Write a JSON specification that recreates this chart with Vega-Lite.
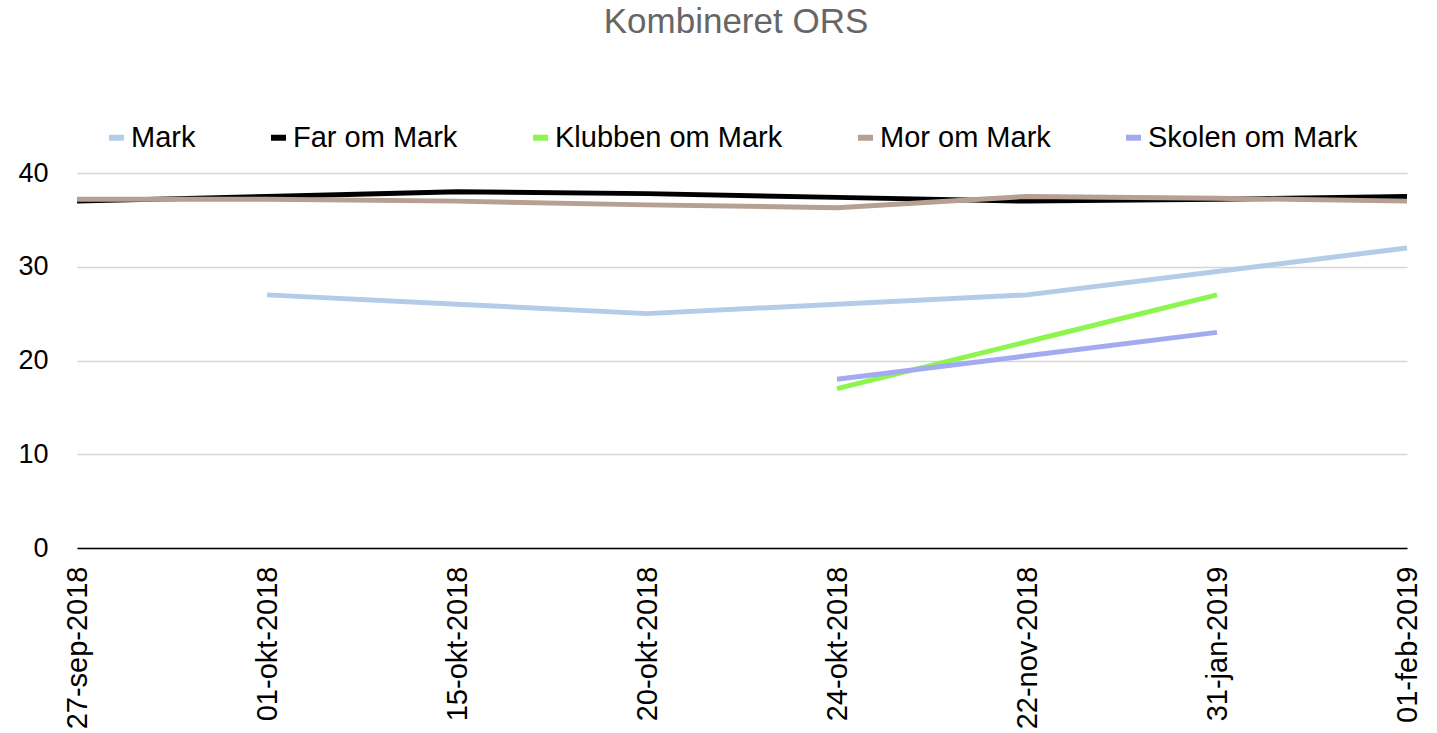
{
  "$schema": "https://vega.github.io/schema/vega-lite/v6.json",
  "width": 1330,
  "height": 375,
  "autosize": {"type": "none"},
  "padding": {"left": 77, "top": 173, "right": 30, "bottom": 185},
  "background": "white",
  "title": {"text": "Kombineret ORS", "fontSize": 35, "color": "#666666", "font": "Liberation Sans", "fontWeight": "normal", "anchor": "middle", "offset": 83, "dx": -6},
  "config": {
    "view": {"stroke": null},
    "font": "Liberation Sans"
  },
  "data": {
    "values": [
      {"i": 1, "dato": "01-okt-2018", "serie": "Mark", "v": 27},
      {"i": 2, "dato": "15-okt-2018", "serie": "Mark", "v": 26},
      {"i": 3, "dato": "20-okt-2018", "serie": "Mark", "v": 25},
      {"i": 4, "dato": "24-okt-2018", "serie": "Mark", "v": 26},
      {"i": 5, "dato": "22-nov-2018", "serie": "Mark", "v": 27},
      {"i": 6, "dato": "31-jan-2019", "serie": "Mark", "v": 29.5},
      {"i": 7, "dato": "01-feb-2019", "serie": "Mark", "v": 32},
      {"i": 0, "dato": "27-sep-2018", "serie": "Far om Mark", "v": 37},
      {"i": 1, "dato": "01-okt-2018", "serie": "Far om Mark", "v": 37.5},
      {"i": 2, "dato": "15-okt-2018", "serie": "Far om Mark", "v": 38},
      {"i": 3, "dato": "20-okt-2018", "serie": "Far om Mark", "v": 37.8},
      {"i": 4, "dato": "24-okt-2018", "serie": "Far om Mark", "v": 37.4},
      {"i": 5, "dato": "22-nov-2018", "serie": "Far om Mark", "v": 37},
      {"i": 6, "dato": "31-jan-2019", "serie": "Far om Mark", "v": 37.2},
      {"i": 7, "dato": "01-feb-2019", "serie": "Far om Mark", "v": 37.5},
      {"i": 4, "dato": "24-okt-2018", "serie": "Klubben om Mark", "v": 17},
      {"i": 5, "dato": "22-nov-2018", "serie": "Klubben om Mark", "v": 22},
      {"i": 6, "dato": "31-jan-2019", "serie": "Klubben om Mark", "v": 27},
      {"i": 0, "dato": "27-sep-2018", "serie": "Mor om Mark", "v": 37.2},
      {"i": 1, "dato": "01-okt-2018", "serie": "Mor om Mark", "v": 37.2},
      {"i": 2, "dato": "15-okt-2018", "serie": "Mor om Mark", "v": 37},
      {"i": 3, "dato": "20-okt-2018", "serie": "Mor om Mark", "v": 36.6},
      {"i": 4, "dato": "24-okt-2018", "serie": "Mor om Mark", "v": 36.3},
      {"i": 5, "dato": "22-nov-2018", "serie": "Mor om Mark", "v": 37.5},
      {"i": 6, "dato": "31-jan-2019", "serie": "Mor om Mark", "v": 37.3},
      {"i": 7, "dato": "01-feb-2019", "serie": "Mor om Mark", "v": 37},
      {"i": 4, "dato": "24-okt-2018", "serie": "Skolen om Mark", "v": 18},
      {"i": 5, "dato": "22-nov-2018", "serie": "Skolen om Mark", "v": 20.5},
      {"i": 6, "dato": "31-jan-2019", "serie": "Skolen om Mark", "v": 23}
    ]
  },
  "mark": {"type": "line", "strokeWidth": 5, "strokeCap": "butt", "strokeJoin": "round"},
  "encoding": {
    "x": {
      "field": "dato", "type": "nominal",
      "sort": ["27-sep-2018", "01-okt-2018", "15-okt-2018", "20-okt-2018", "24-okt-2018", "22-nov-2018", "31-jan-2019", "01-feb-2019"],
      "scale": {"type": "point", "padding": 0},
      "axis": {"title": null, "labelAngle": -90, "labelAlign": "right", "labelBaseline": "middle", "labelFontSize": 29, "labelColor": "#000000", "labelPadding": 18, "labelLimit": 400, "ticks": false, "grid": false, "domain": true, "domainColor": "#000000", "domainWidth": 1.5, "labelFont": "Liberation Sans"}
    },
    "y": {
      "field": "v", "type": "quantitative",
      "scale": {"domain": [0, 40], "nice": false, "zero": true},
      "axis": {"title": null, "values": [0, 10, 20, 30, 40], "labelFontSize": 27, "labelColor": "#000000", "labelPadding": 29, "ticks": false, "domain": false, "grid": true, "gridColor": "#d6d6d6", "gridWidth": 1.5, "labelFont": "Liberation Sans"}
    },
    "color": {
      "field": "serie", "type": "nominal",
      "sort": ["Mark", "Far om Mark", "Klubben om Mark", "Mor om Mark", "Skolen om Mark"],
      "scale": {"domain": ["Mark", "Far om Mark", "Klubben om Mark", "Mor om Mark", "Skolen om Mark"], "range": ["#b3cde8", "#000000", "#8cf54e", "#b5a093", "#a3aaf0"]},
      "legend": {"title": null, "orient": "none", "direction": "horizontal", "legendX": 25, "legendY": -50, "symbolType": "stroke", "symbolStrokeWidth": 6, "symbolSize": 225, "labelFontSize": 29, "labelColor": "#000000", "labelFont": "Liberation Sans", "labelLimit": 500, "columnPadding": 63, "labelOffset": 0, "padding": 0}
    },
    "order": {"field": "i", "type": "quantitative"}
  }
}
